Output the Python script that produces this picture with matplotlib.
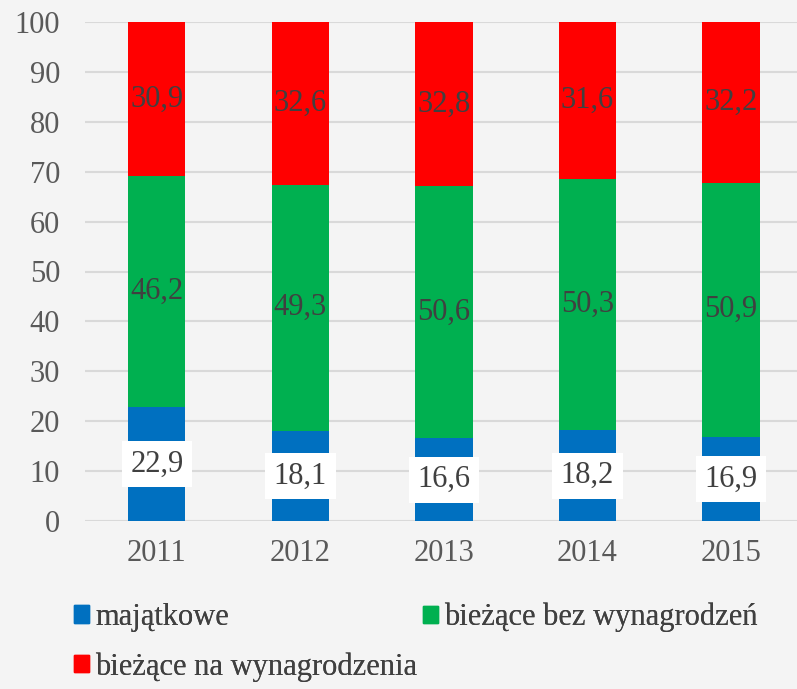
import matplotlib
matplotlib.use("Agg")
import matplotlib.pyplot as plt
from matplotlib.patches import Patch
import numpy as np

years = ["2011", "2012", "2013", "2014", "2015"]
series_names = ["majątkowe", "bieżące bez wynagrodzeń", "bieżące na wynagrodzenia"]
majatkowe = [22.9, 18.1, 16.6, 18.2, 16.9]
biezace_bez = [46.2, 49.3, 50.6, 50.3, 50.9]
biezace_wyn = [30.9, 32.6, 32.8, 31.6, 32.2]
colors = ["#0070C0", "#00B050", "#FF0000"]
yticks = [0, 10, 20, 30, 40, 50, 60, 70, 80, 90, 100]

plt.rcParams['font.family'] = ['Liberation Serif', 'DejaVu Serif']
bg = "#f4f4f4"
fig = plt.figure(figsize=(7.97, 6.89), dpi=100, facecolor=bg)
ax = fig.add_axes([85/797, 168/689, 712/797, 499/689], facecolor=bg)

x = np.arange(len(years))
w = 0.40
bottom = np.zeros(len(years))
data = [majatkowe, biezace_bez, biezace_wyn]
for i, (vals, c) in enumerate(zip(data, colors)):
    vals = np.array(vals)
    ax.bar(x, vals, w, bottom=bottom, color=c, label=series_names[i], zorder=3)
    for xi, b, v in zip(x, bottom, vals):
        txt = f"{v:.1f}".replace(".", ",")
        kw = {}
        if i == 0:
            kw = dict(bbox=dict(boxstyle="square,pad=0.28", fc="white", ec="none"))
        ax.text(xi, b + v/2, txt, ha="center", va="center", fontsize=22,
                color="#404040", zorder=5, **kw)
    bottom = bottom + vals

ax.set_ylim(0, 100)
ax.set_xlim(-0.5, 4.46)
ax.set_yticks(yticks)
ax.set_xticks(x)
ax.set_xticklabels(years)
ax.tick_params(axis="both", length=0, labelsize=22, labelcolor="#595959")
ax.tick_params(axis="y", pad=18)
ax.tick_params(axis="x", pad=13)
ax.grid(axis="y", color="#d9d9d9", linewidth=1.5, zorder=0)
for s in ax.spines.values():
    s.set_visible(False)

entries = [(0, 74/797, 1 - 603/689), (1, 423/797, 1 - 603/689), (2, 74/797, 1 - 652/689)]
for idx, xa, ya in entries:
    leg = fig.legend(handles=[Patch(color=colors[idx], label=series_names[idx])],
                     loc="upper left", bbox_to_anchor=(xa, ya), frameon=False,
                     fontsize=22, handlelength=0.5, handleheight=0.5,
                     handletextpad=0.2, borderaxespad=0, borderpad=0)
    for t in leg.get_texts():
        t.set_color("#404040")
    fig.add_artist(leg)

fig.savefig("out.png", dpi=100, facecolor=bg)
